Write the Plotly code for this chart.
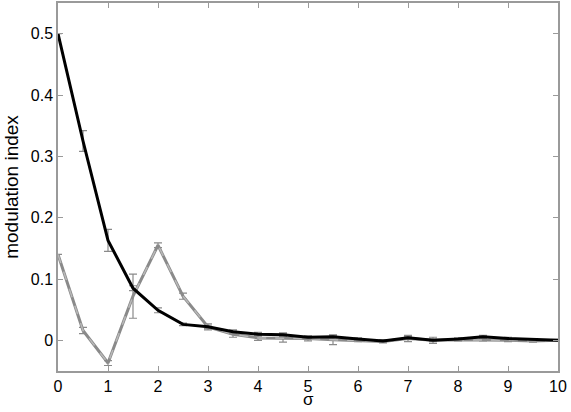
import plotly.graph_objects as go

sigma = [0, 0.5, 1, 1.5, 2, 2.5, 3, 3.5, 4, 4.5, 5, 5.5, 6, 6.5, 7, 7.5, 8, 8.5, 9, 9.5, 10]

black_vals = [0.5, 0.325, 0.163, 0.085, 0.049, 0.026, 0.022, 0.014, 0.010, 0.009, 0.005,
              0.006, 0.002, -0.001, 0.004, 0.000, 0.002, 0.006, 0.003, 0.001, 0.0]
black_err = [0.0, 0.017, 0.018, 0.004, 0.004, 0.002, 0.003, 0.003, 0.003, 0.003, 0.002,
             0.002, 0.002, 0.002, 0.002, 0.002, 0.002, 0.002, 0.002, 0.002, 0.0]

gray_vals = [0.14, 0.016, -0.037, 0.072, 0.155, 0.072, 0.022, 0.010, 0.004, 0.004, 0.003,
             0.001, 0.000, -0.002, 0.003, 0.000, 0.001, 0.001, 0.000, -0.001, 0.0]
gray_err = [0.0, 0.005, 0.004, 0.036, 0.004, 0.005, 0.005, 0.005, 0.004, 0.007, 0.004,
            0.008, 0.002, 0.002, 0.005, 0.005, 0.002, 0.002, 0.002, 0.002, 0.0]

fig = go.Figure()

# gray curve: solid gray under a lighter dashed stroke
fig.add_trace(go.Scatter(
    x=sigma, y=gray_vals, mode="lines",
    line=dict(color="#8a8a8a", width=3),
    error_y=dict(type="data", array=gray_err, color="#8a8a8a", thickness=1.2, width=4),
    showlegend=False,
))
fig.add_trace(go.Scatter(
    x=sigma, y=gray_vals, mode="lines",
    line=dict(color="#b8b8b8", width=1.5, dash="dash"),
    showlegend=False, hoverinfo="skip",
))

fig.add_trace(go.Scatter(
    x=sigma, y=black_vals, mode="lines",
    line=dict(color="black", width=3),
    error_y=dict(type="data", array=black_err, color="#8a8a8a", thickness=1.2, width=4),
    showlegend=False,
))

font = "Arial, Liberation Sans"
axis_style = dict(
    showline=True, linecolor="#9a9a9a", linewidth=1.5, mirror="ticks",
    ticks="inside", tickcolor="#9a9a9a", ticklen=5, tickwidth=1,
    showgrid=False, zeroline=False,
    tickfont=dict(family=font, size=16, color="black"),
)

fig.update_xaxes(range=[0, 10], tickvals=list(range(11)), **axis_style)
fig.update_yaxes(
    range=[-0.05, 0.55], tickvals=[0, 0.1, 0.2, 0.3, 0.4, 0.5],
    ticktext=["0", "0.1", "0.2", "0.3", "0.4", "0.5"],
    title=dict(text="modulation index", font=dict(family=font, size=19, color="black"), standoff=7),
    **axis_style,
)

# x label placed under the tick labels
fig.add_annotation(
    text="σ", xref="paper", yref="paper", x=0.5, y=-0.11,
    xanchor="center", yanchor="bottom", showarrow=False,
    font=dict(family=font, size=17, color="black"),
)

fig.update_layout(
    width=571, height=412,
    margin=dict(l=58, r=13, t=3, b=41, autoexpand=False),
    paper_bgcolor="white", plot_bgcolor="white",
)

fig.write_html("out.html", config={"displayModeBar": False},
               post_script="document.body.style.margin='0';")
